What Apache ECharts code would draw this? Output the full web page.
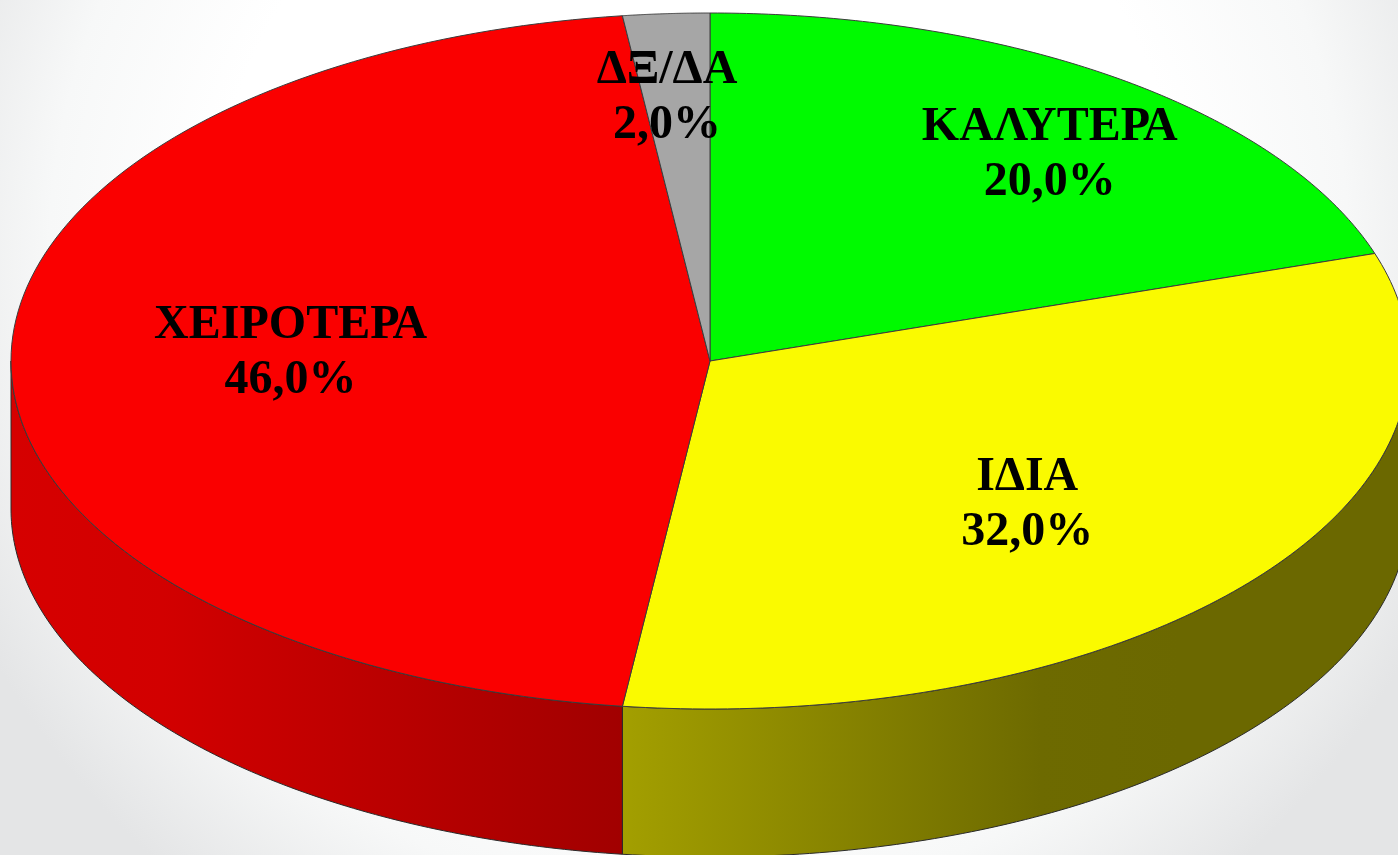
<!DOCTYPE html>
<html>
<head>
<meta charset="utf-8">
<title>3D pie</title>
<script src="https://cdn.jsdelivr.net/npm/echarts@6/dist/echarts.min.js"></script>
<style>
  html, body { margin: 0; padding: 0; }
  #chart { width: 1398px; height: 855px; }
</style>
</head>
<body>
<div id="chart"></div>
<script>
// data
const categories = ['ΚΑΛΥΤΕΡΑ', 'ΙΔΙΑ', 'ΧΕΙΡΟΤΕΡΑ', 'ΔΞ/ΔΑ'];
const values = [20.0, 32.0, 46.0, 2.0];

// styles
const topColors = ['#00fa00', '#fafa00', '#fa0000', '#a6a6a6'];
const sideColors = [
  null,
  [{ offset: 0, color: '#a39f00' }, { offset: 0.75, color: '#6d6a00' }, { offset: 1, color: '#6b6800' }],
  [{ offset: 0, color: '#d60000' }, { offset: 0.25, color: '#d20000' }, { offset: 1, color: '#a10000' }],
  [{ offset: 0, color: '#8a8a8a' }, { offset: 1, color: '#6a6a6a' }]
];
const sideGradX = [null, [622, 1180], [10, 622], [10, 622]];
// label placement as fraction of the radii, along the mid angle of each slice
const labelRadius = [[0.827, 0.732], [0.589, 0.65], [0.6, 0.6], [0.98, 0.757]];

const cx = 710, cy = 361, rx = 699, ry = 348, depth = 148;
const total = values.reduce((a, b) => a + b, 0);
const starts = [];
values.reduce((acc, v, i) => { starts[i] = acc; return acc + v / total * 360; }, 0);

function pt(deg, dy) {
  const r = deg * Math.PI / 180;
  return [cx + rx * Math.sin(r), cy - ry * Math.cos(r) + dy];
}

function fmt(v) {
  return (v / total * 100).toFixed(1).replace('.', ',') + '%';
}

function renderItem(params, api) {
  const i = params.dataIndex;
  const a0 = starts[i];
  const a1 = a0 + api.value(0) / total * 360;
  const children = [];
  const n = 120;

  // top face
  const pts = [[cx, cy]];
  for (let k = 0; k <= n; k++) pts.push(pt(a0 + (a1 - a0) * k / n, 0));
  children.push({
    type: 'polygon', z2: 2,
    shape: { points: pts },
    style: { fill: topColors[i], stroke: '#3c3c3c', lineWidth: 1 }
  });

  // front wall
  const s0 = Math.max(a0, 90), s1 = Math.min(a1, 270);
  if (s1 > s0) {
    const side = [];
    for (let k = 0; k <= n; k++) side.push(pt(s0 + (s1 - s0) * k / n, 0));
    for (let k = n; k >= 0; k--) side.push(pt(s0 + (s1 - s0) * k / n, depth));
    children.push({
      type: 'polygon', z2: 1,
      shape: { points: side },
      style: {
        fill: {
          type: 'linear', global: true,
          x: sideGradX[i][0], y: 0, x2: sideGradX[i][1], y2: 0,
          colorStops: sideColors[i]
        },
        stroke: '#2a2a2a', lineWidth: 1
      }
    });
  }

  // label
  const mid = (a0 + a1) / 2 * Math.PI / 180;
  children.push({
    type: 'text', z2: 3,
    x: cx + labelRadius[i][0] * rx * Math.sin(mid),
    y: cy - labelRadius[i][1] * ry * Math.cos(mid) - (i === 2 ? 8 : 0),
    style: {
      text: categories[i] + '\n' + fmt(api.value(0)),
      fontFamily: '"Liberation Serif", "Times New Roman", serif',
      fontWeight: 'bold',
      fontSize: 48,
      lineHeight: 55,
      fill: '#000',
      align: 'center',
      verticalAlign: 'middle'
    }
  });

  return { type: 'group', children: children };
}

const chart = echarts.init(document.getElementById('chart'));
chart.setOption({
  animation: false,
  backgroundColor: {
    type: 'radial', x: 0.5, y: 0.3, r: 0.95,
    colorStops: [
      { offset: 0, color: '#ffffff' },
      { offset: 0.6, color: '#ffffff' },
      { offset: 0.8, color: '#f7f8f8' },
      { offset: 1, color: '#e4e5e6' }
    ]
  },
  series: [{
    type: 'custom',
    coordinateSystem: 'none',
    silent: true,
    data: values.map(v => [v]),
    renderItem: renderItem
  }]
});
</script>
</body>
</html>
